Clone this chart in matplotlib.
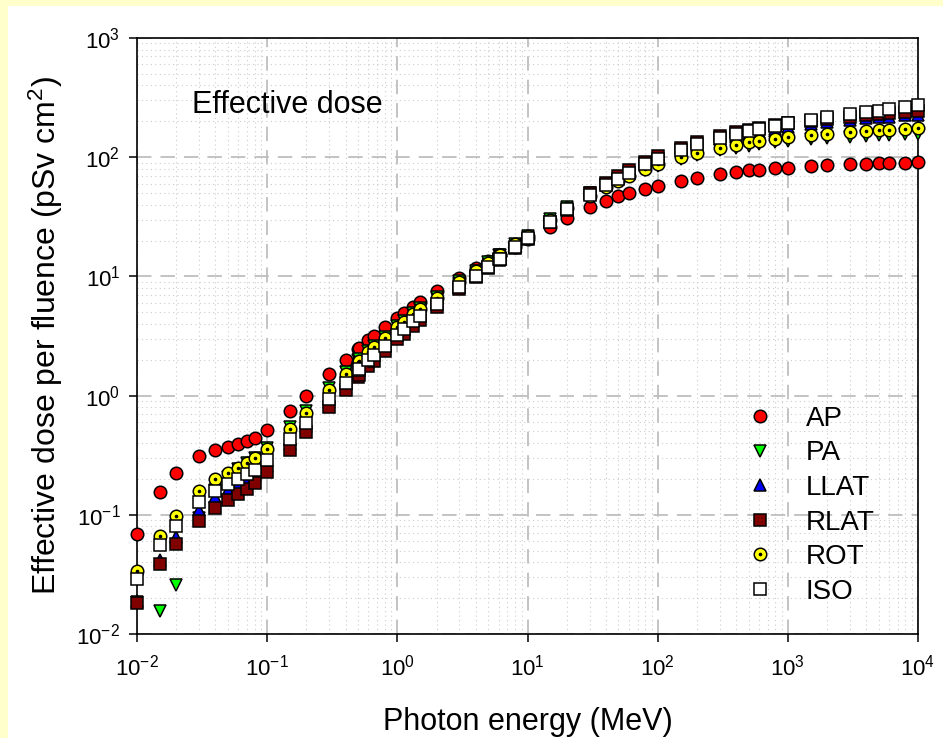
import matplotlib
matplotlib.use('Agg')
import matplotlib.pyplot as plt
from matplotlib.ticker import LogLocator, FuncFormatter, NullFormatter
from matplotlib.patches import Rectangle
import numpy as np

plt.rcParams['font.family'] = ['Liberation Sans', 'DejaVu Sans']
plt.rcParams['mathtext.fontset'] = 'custom'
plt.rcParams['mathtext.rm'] = 'Liberation Sans'
plt.rcParams['mathtext.it'] = 'Liberation Sans:italic'
plt.rcParams['mathtext.bf'] = 'Liberation Sans:bold'

# photon energy (MeV)
energy = [0.01, 0.015, 0.02, 0.03, 0.04, 0.05, 0.06, 0.07, 0.08, 0.1,
          0.15, 0.2, 0.3, 0.4, 0.5, 0.511, 0.6, 0.662, 0.8, 1,
          1.117, 1.33, 1.5, 2, 3, 4, 5, 6, 6.129, 8,
          10, 15, 20, 30, 40, 50, 60, 80, 100,
          150, 200, 300, 400, 500, 600, 800, 1000,
          1500, 2000, 3000, 4000, 5000, 6000, 8000, 10000]

# effective dose per fluence (pSv cm2)
ap = [0.0685, 0.156, 0.225, 0.313, 0.351, 0.370, 0.390, 0.413, 0.444, 0.519,
      0.748, 1.00, 1.51, 2.00, 2.47, 2.52, 2.91, 3.17, 3.73, 4.49,
      4.90, 5.59, 6.12, 7.48, 9.75, 11.7, 13.4, 15.0, 15.1, 17.8,
      20.5, 26.1, 30.8, 37.9, 43.1, 47.1, 50.1, 54.5, 57.8,
      63.2, 67.2, 72.3, 75.4, 77.4, 78.7, 80.4, 81.7,
      83.8, 85.2, 86.9, 88.1, 88.9, 89.5, 90.2, 90.7]

pa = [0.0184, 0.0155, 0.0260, 0.0940, 0.161, 0.208, 0.242, 0.271, 0.301, 0.361,
      0.541, 0.741, 1.16, 1.57, 1.98, 2.03, 2.38, 2.62, 3.13, 3.83,
      4.22, 4.89, 5.39, 6.75, 9.12, 11.2, 13.1, 15.0, 15.2, 18.6,
      22.0, 30.3, 38.2, 50.0, 58.0, 64.0, 70.0, 78.0, 85.0,
      96.0, 104, 114, 120, 125, 128, 133, 137,
      142, 145, 149, 152, 154, 155, 157, 158]

llat = [0.0189, 0.0416, 0.0655, 0.110, 0.140, 0.160, 0.177, 0.194, 0.214, 0.259,
        0.395, 0.552, 0.888, 1.24, 1.58, 1.62, 1.93, 2.14, 2.59, 3.23,
        3.58, 4.20, 4.68, 6.00, 8.35, 10.5, 12.4, 14.3, 14.5, 17.9,
        21.3, 29.4, 37.2, 49.0, 59.0, 67.0, 74.0, 86.0, 96.0,
        113, 125, 141, 151, 158, 164, 173, 180,
        190, 197, 206, 212, 216, 219, 224, 228]

rlat = [0.0182, 0.0390, 0.0573, 0.0891, 0.114, 0.133, 0.149, 0.166, 0.185, 0.228,
        0.351, 0.492, 0.801, 1.12, 1.44, 1.48, 1.76, 1.96, 2.37, 2.97,
        3.29, 3.87, 4.33, 5.57, 7.82, 9.90, 11.8, 13.7, 13.9, 17.2,
        20.5, 28.4, 36.1, 50.0, 61.0, 70.0, 78.0, 92.0, 102,
        120, 134, 152, 163, 170, 176, 186, 193,
        203, 210, 219, 225, 230, 233, 240, 246]

rot = [0.0337, 0.0664, 0.0986, 0.158, 0.199, 0.226, 0.248, 0.273, 0.297, 0.355,
       0.528, 0.721, 1.12, 1.52, 1.92, 1.96, 2.30, 2.54, 3.05, 3.76,
       4.14, 4.83, 5.32, 6.64, 9.03, 11.1, 13.0, 15.0, 15.2, 18.6,
       22.0, 29.9, 37.3, 47.0, 56.0, 63.0, 69.0, 79.0, 88.0,
       101, 108, 120, 127, 133, 137, 143, 148,
       153, 157, 163, 166, 168, 170, 173, 175]

iso = [0.0288, 0.0560, 0.0812, 0.127, 0.158, 0.180, 0.199, 0.218, 0.239, 0.287,
       0.429, 0.589, 0.932, 1.28, 1.63, 1.67, 1.97, 2.17, 2.62, 3.25,
       3.60, 4.20, 4.66, 5.90, 8.08, 10.1, 12.0, 13.9, 14.1, 17.5,
       20.9, 28.8, 36.5, 48.0, 58.0, 66.0, 73.0, 87.0, 97.0,
       115, 128, 146, 156, 165, 172, 184, 193,
       207, 216, 229, 238, 245, 252, 262, 273]

fig = plt.figure(figsize=(9.43, 7.38), dpi=100, facecolor='#FFFFCC')
fig.patches.append(Rectangle((8 / 943, 0), 1, 1 - 6 / 738, transform=fig.transFigure,
                             facecolor='white', edgecolor='none', zorder=-10))
ax = fig.add_axes([137 / 943, 1 - 634 / 738, 781 / 943, 596 / 738])
ax.set_facecolor('white')

ms = 9
mew = 1.1
kw = dict(linestyle='none', markersize=ms, markeredgecolor='black',
          markeredgewidth=mew, clip_on=False, zorder=3)

h_ap, = ax.plot(energy, ap, marker='o', markerfacecolor='#FF0000', label='AP', **kw)
h_pa, = ax.plot(energy, pa, marker='v', markerfacecolor='#00FF00', label='PA', **kw)
h_ll, = ax.plot(energy, llat, marker='^', markerfacecolor='#0000FF', label='LLAT', **kw)
h_rl, = ax.plot(energy, rlat, marker='s', markerfacecolor='#800000', label='RLAT', **kw)
h_rot, = ax.plot(energy, rot, marker='o', markerfacecolor='#FFFF00', label='ROT', **kw)
h_dot, = ax.plot(energy, rot, marker='o', markersize=1.6, markerfacecolor='black',
                 markeredgecolor='black', linestyle='none', clip_on=False, zorder=3)
h_iso, = ax.plot(energy, iso, marker='s', markerfacecolor='white', label='ISO', **kw)

ax.set_xscale('log')
ax.set_yscale('log')
ax.set_xlim(1e-2, 1e4)
ax.set_ylim(1e-2, 1e3)

fmt = FuncFormatter(lambda v, p: r'$\mathregular{10^{%d}}$' % round(np.log10(v)))
ax.xaxis.set_major_locator(LogLocator(base=10, numticks=20))
ax.yaxis.set_major_locator(LogLocator(base=10, numticks=20))
ax.xaxis.set_minor_locator(LogLocator(base=10, subs=np.arange(2, 10), numticks=20))
ax.yaxis.set_minor_locator(LogLocator(base=10, subs=np.arange(2, 10), numticks=20))
ax.xaxis.set_major_formatter(fmt)
ax.yaxis.set_major_formatter(fmt)
ax.xaxis.set_minor_formatter(NullFormatter())
ax.yaxis.set_minor_formatter(NullFormatter())

ax.tick_params(which='major', direction='out', length=6, width=1.1, labelsize=16,
               top=False, right=False)
ax.tick_params(axis='x', which='major', pad=9)
ax.tick_params(axis='y', which='major', pad=6)
ax.tick_params(which='minor', length=0)

ax.grid(which='major', color='#BEBEBE', linestyle=(0, (8, 5)), linewidth=1.3)
ax.grid(which='minor', color='#CCCCCC', linestyle=(0, (1, 3)), linewidth=0.8)
ax.set_axisbelow(True)

for s in ax.spines.values():
    s.set_linewidth(1.2)
    s.set_color('black')

ax.set_xlabel('Photon energy (MeV)', fontsize=22, labelpad=19)
ax.set_ylabel(r'Effective dose per fluence (pSv cm$^{\mathregular{2}}$)', fontsize=23, labelpad=8)

ax.text(0.0704, 0.8876, 'Effective dose', transform=ax.transAxes, fontsize=22,
        ha='left', va='center')

leg = ax.legend([h_ap, h_pa, h_ll, h_rl, (h_rot, h_dot), h_iso],
                ['AP', 'PA', 'LLAT', 'RLAT', 'ROT', 'ISO'],
                loc='upper left', bbox_to_anchor=(0.7798, 0.383), frameon=False,
                fontsize=20, handlelength=1.0, handletextpad=1.15, labelspacing=0.31,
                borderpad=0, borderaxespad=0)

fig.savefig('out.png', dpi=100, facecolor=fig.get_facecolor())
